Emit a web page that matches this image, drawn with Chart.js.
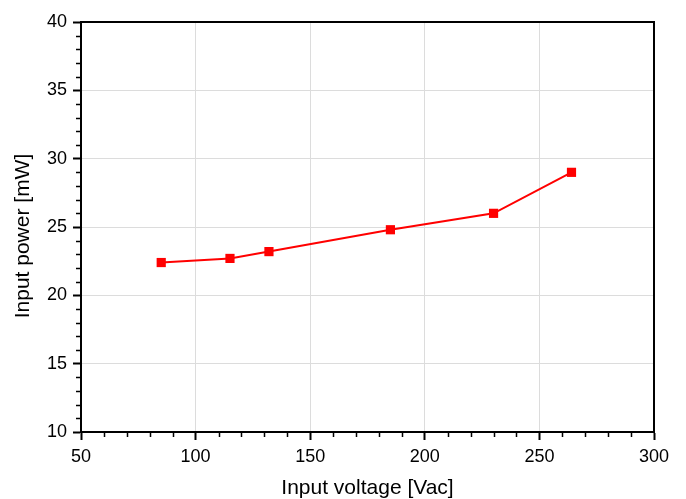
<!DOCTYPE html>
<html>
<head>
<meta charset="utf-8">
<script src="https://cdn.jsdelivr.net/npm/chart.js@4.4.1/dist/chart.umd.min.js"></script>
<style>
  html, body { margin: 0; padding: 0; background: #fff; }
</style>
</head>
<body>
<canvas id="powerChart" width="686" height="499"></canvas>
<script>
// values
var inputVoltage = [85, 115, 132, 185, 230, 264];
var inputPower = [22.4, 22.7, 23.2, 24.8, 26.0, 29.0];
var xTicks = [50, 100, 150, 200, 250, 300];
var yTicks = [10, 15, 20, 25, 30, 35, 40];
var yTitle = 'Input power [mW]';

// minor ticks, top/right frame and the y title (sits a bit below the axis centre in the original)
var framePlugin = {
    id: 'frame',
    afterDraw: function (chart) {
        var ctx = chart.ctx;
        var area = chart.chartArea;
        var xs = chart.scales.x;
        var ys = chart.scales.y;
        ctx.save();
        ctx.strokeStyle = '#000';
        ctx.lineWidth = 1.5;
        ctx.beginPath();
        for (var v = 50; v <= 300; v += 10) {
            if (v % 50 === 0) continue;
            var px = Math.round(xs.getPixelForValue(v)) + 0.5;
            ctx.moveTo(px, area.bottom);
            ctx.lineTo(px, area.bottom + 5);
        }
        for (var w = 10; w <= 40; w += 1) {
            if (w % 5 === 0) continue;
            var py = Math.round(ys.getPixelForValue(w)) + 0.5;
            ctx.moveTo(area.left, py);
            ctx.lineTo(area.left - 5, py);
        }
        ctx.stroke();
        ctx.lineWidth = 2;
        ctx.beginPath();
        ctx.moveTo(area.left, area.top);
        ctx.lineTo(area.right, area.top);
        ctx.lineTo(area.right, area.bottom);
        ctx.stroke();

        ctx.translate(23, (area.top + area.bottom) / 2 + 9);
        ctx.rotate(-Math.PI / 2);
        ctx.fillStyle = '#000';
        ctx.font = '21px "Liberation Sans"';
        ctx.textAlign = 'center';
        ctx.textBaseline = 'middle';
        ctx.fillText(yTitle, 0, 0);
        ctx.restore();
    }
};

var ctx = document.getElementById('powerChart').getContext('2d');
var powerChart = new Chart(ctx, {
    type: 'line',
    data: {
        datasets: [{
            data: inputVoltage.map(function (v, i) { return { x: v, y: inputPower[i] }; }),
            borderColor: '#ff0000',
            backgroundColor: '#ff0000',
            borderWidth: 2,
            tension: 0,
            pointStyle: 'rect',
            pointRadius: 6.5,
            pointBorderWidth: 0
        }]
    },
    options: {
        responsive: false,
        animation: false,
        layout: {
            padding: { top: 22, right: 32, left: 0, bottom: 0 }
        },
        scales: {
            x: {
                type: 'linear',
                min: 50,
                max: 300,
                afterBuildTicks: function (scale) {
                    scale.ticks = xTicks.map(function (v) { return { value: v }; });
                },
                afterFit: function (scale) { scale.height = 67; },
                grid: {
                    color: '#dcdcdc',
                    lineWidth: 1,
                    drawTicks: true,
                    tickLength: 8,
                    tickColor: '#000',
                    tickWidth: 2
                },
                border: { display: true, color: '#000', width: 2 },
                ticks: {
                    color: '#000',
                    padding: 6,
                    font: { family: 'Liberation Sans', size: 18 }
                },
                title: {
                    display: true,
                    text: 'Input voltage [Vac]',
                    color: '#000',
                    padding: { top: 0, bottom: -2 },
                    font: { family: 'Liberation Sans', size: 21 }
                }
            },
            y: {
                min: 10,
                max: 40,
                afterBuildTicks: function (scale) {
                    scale.ticks = yTicks.map(function (v) { return { value: v }; });
                },
                afterFit: function (scale) { scale.width = 81; },
                grid: {
                    color: '#dcdcdc',
                    lineWidth: 1,
                    drawTicks: true,
                    tickLength: 8,
                    tickColor: '#000',
                    tickWidth: 2
                },
                border: { display: true, color: '#000', width: 2 },
                ticks: {
                    color: '#000',
                    padding: 6,
                    font: { family: 'Liberation Sans', size: 18 }
                },
                title: { display: false }
            }
        },
        plugins: {
            legend: { display: false },
            tooltip: { enabled: false }
        }
    },
    plugins: [framePlugin]
});
</script>
</body>
</html>
